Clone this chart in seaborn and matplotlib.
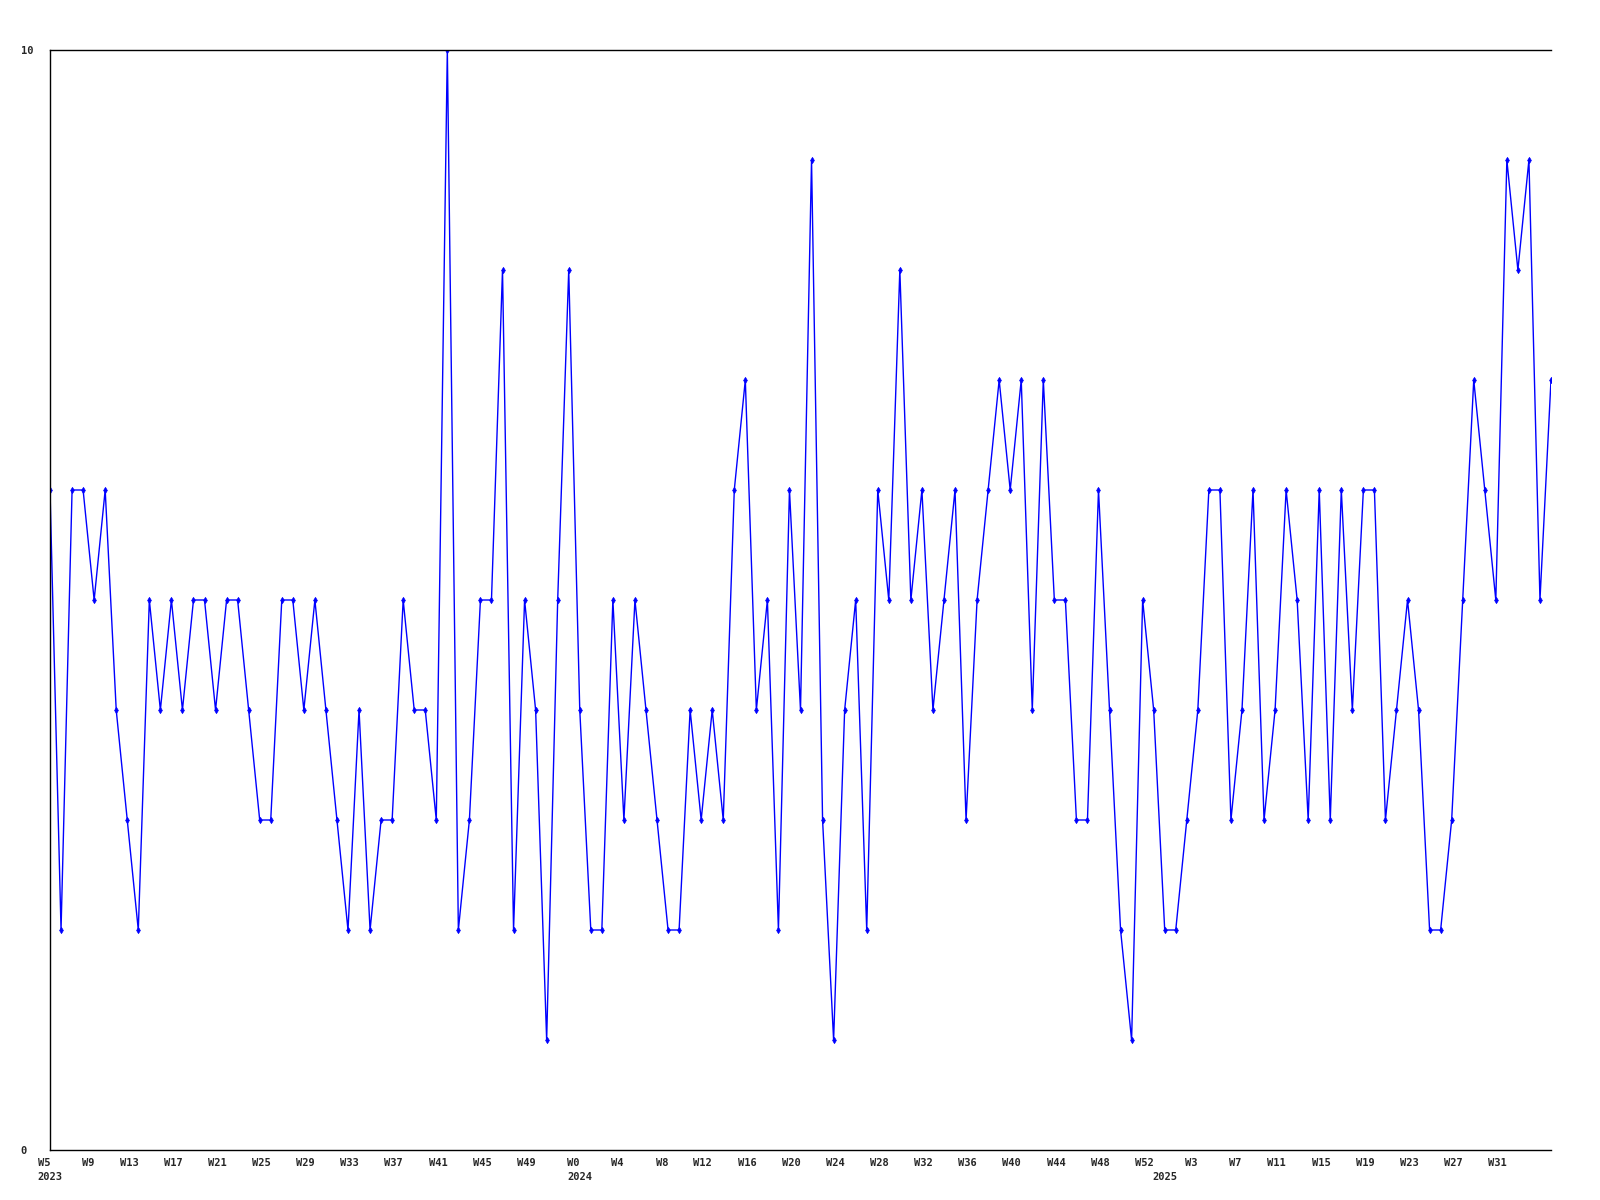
"""
Weekly count, 2023 W5 - 2025 W35, drawn as a plain blue line with small markers.
Writes out.png (1600x1200).
"""

import matplotlib
matplotlib.use("Agg")
import matplotlib.pyplot as plt
import matplotlib.transforms as mtransforms
import pandas as pd
import seaborn as sns

# ── Data ──────────────────────────────────────────────────────────────────────
# week numbers per year, as printed on the axis (Sunday-start weeks, W0..W52)
YEARS      = [2023, 2024, 2025]
FIRST_WEEK = [5, 0, 0]
LAST_WEEK  = [52, 52, 35]

VALUES = [
    6, 2, 6, 6, 5, 6, 4, 3, 2, 5, 4, 5, 4, 5, 5, 4, 5, 5, 4, 3,
    3, 5, 5, 4, 5, 4, 3, 2, 4, 2, 3, 3, 5, 4, 4, 3, 10, 2, 3, 5,
    5, 8, 2, 5, 4, 1, 5, 8, 4, 2, 2, 5, 3, 5, 4, 3, 2, 2, 4, 3,
    4, 3, 6, 7, 4, 5, 2, 6, 4, 9, 3, 1, 4, 5, 2, 6, 5, 8, 5, 6,
    4, 5, 6, 3, 5, 6, 7, 6, 7, 4, 7, 5, 5, 3, 3, 6, 4, 2, 1, 5,
    4, 2, 2, 3, 4, 6, 6, 3, 4, 6, 3, 4, 6, 5, 3, 6, 3, 6, 4, 6,
    6, 3, 4, 5, 4, 2, 2, 3, 5, 7, 6, 5, 9, 8, 9, 5, 7,
]

Y_TICKS    = [0, 10]
TICK_EVERY = 4

LINE_COLOR = "#0000FF"
FONT       = ["DejaVu Sans Mono", "Liberation Mono"]
FONT_SIZE  = 7.5


def build_frame():
    rows = []
    for year, w0, w1 in zip(YEARS, FIRST_WEEK, LAST_WEEK):
        for w in range(w0, w1 + 1):
            rows.append({"year": year, "week": w})
    df = pd.DataFrame(rows)
    df["value"] = VALUES
    df["idx"] = range(len(df))
    return df


def main():
    df = build_frame()

    sns.set_style("white")
    plt.rcParams["font.family"] = FONT

    fig = plt.figure(figsize=(16, 12), dpi=100)
    ax = fig.add_axes([50 / 1600, 50 / 1200, 1501 / 1600, 1100 / 1200])

    sns.lineplot(
        data=df, x="idx", y="value", ax=ax,
        color=LINE_COLOR, linewidth=1.0,
        marker="d", markersize=3.2, markeredgewidth=0.5,
        markeredgecolor=LINE_COLOR, markerfacecolor=LINE_COLOR,
    )

    n = len(df)
    ax.set_xlim(0, n - 1)
    ax.set_ylim(min(Y_TICKS), max(Y_TICKS))
    ax.set_xlabel("")
    ax.set_ylabel("")

    for side in ["left", "top", "bottom"]:
        ax.spines[side].set_visible(True)
        ax.spines[side].set_color("black")
        ax.spines[side].set_linewidth(1.0)
    ax.spines["right"].set_visible(False)

    # y labels: only the ends of the scale, left-aligned near the figure edge
    ax.set_yticks(Y_TICKS)
    ax.set_yticklabels([str(t) for t in Y_TICKS])
    ax.tick_params(axis="y", length=0, pad=21, labelsize=FONT_SIZE)
    for lab in ax.get_yticklabels():
        lab.set_horizontalalignment("left")
        lab.set_fontweight("bold")

    # x labels: every 4th week, right edge on the point; the last point
    # has no room for a label
    ticks = df.iloc[:n - 1:TICK_EVERY]
    ax.set_xticks(ticks["idx"])
    ax.set_xticklabels([f"W{w}" for w in ticks["week"]])
    ax.tick_params(axis="x", length=0, pad=6, labelsize=FONT_SIZE)
    for lab in ax.get_xticklabels():
        lab.set_horizontalalignment("right")
        lab.set_fontweight("bold")

    # year centred under the first week of each year
    base = mtransforms.blended_transform_factory(ax.transData, ax.transAxes)
    tr = mtransforms.offset_copy(base, fig=fig, x=0, y=-15.5, units="points")
    for year, grp in df.groupby("year"):
        ax.text(grp["idx"].iloc[0], 0, str(year), transform=tr,
                ha="center", va="top", fontsize=FONT_SIZE, fontweight="bold",
                clip_on=False)

    fig.savefig("out.png", dpi=100, facecolor="white")
    plt.close(fig)


if __name__ == "__main__":
    main()
